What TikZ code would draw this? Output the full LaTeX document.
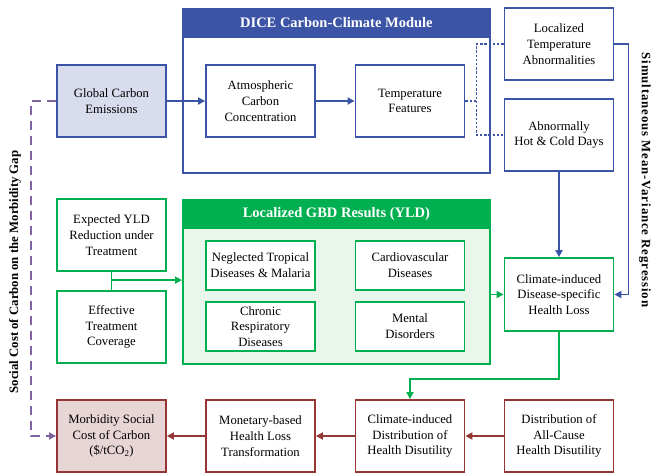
\documentclass[tikz,border=0pt]{standalone}
\usepackage{fontspec}
\setmainfont{Liberation Serif}
\usetikzlibrary{arrows.meta}
\definecolor{cblue}{RGB}{60,84,165}
\definecolor{lblue}{RGB}{216,220,236}
\definecolor{cgreen}{RGB}{0,176,80}
\definecolor{lgreen}{RGB}{232,246,236}
\definecolor{cred}{RGB}{148,54,52}
\definecolor{lred}{RGB}{232,214,214}
\definecolor{cpurple}{RGB}{128,100,162}
\newcommand\bxfont{\fontsize{12.7}{15.8}\selectfont}
\newcommand\hdfont{\bfseries\fontsize{14.5}{16}\selectfont}
\newcommand\sidefont{\bfseries\fontsize{12.8}{14}\selectfont}
\begin{document}
\begin{tikzpicture}[x=1pt,y=-1pt,
  box/.style={draw, line width=1.8pt, minimum width=109pt, minimum height=72pt, align=center, inner sep=1pt, font=\bxfont},
  bb/.style={box, draw=cblue, fill=white},
  gb/.style={box, draw=cgreen, fill=white},
  rb/.style={box, draw=cred, fill=white},
  small/.style={minimum height=49pt},
  cont/.style={draw, line width=1.8pt, minimum width=307pt, anchor=north west, inner sep=0pt},
  hdr/.style={cont, minimum height=28pt, text=white, font=\hdfont},
  arr/.style={line width=1.8pt, -{Triangle[length=7pt,width=7pt]}},
  ln/.style={line width=1.8pt},
  dotb/.style={line width=1.8pt, cblue, dash pattern=on 2.4pt off 1.8pt},
  pdash/.style={line width=1.8pt, cpurple, dash pattern=on 9pt off 6pt, -{Triangle[length=7pt,width=7pt]}}
]
\useasboundingbox (0,0) rectangle (651,472);

% DICE container
\node[cont, draw=cblue, fill=white, minimum height=164pt] (dice) at (182,8) {};
\node[hdr, draw=cblue, fill=cblue] (diceh) at (182,8) {DICE Carbon-Climate Module};

% GBD container
\node[cont, draw=cgreen, fill=lgreen, minimum height=164pt] (gbd) at (182,199) {};
\node[hdr, draw=cgreen, fill=cgreen] (gbdh) at (182,199) {Localized GBD Results (YLD)};

% top row
\node[bb, fill=lblue] (ge) at (111.5,101) {Global Carbon\\Emissions};
\node[bb] (atm) at (260.5,101) {Atmospheric\\Carbon\\Concentration};
\node[bb] (tf) at (410,101) {Temperature\\Features};
\node[bb] (lta) at (559,44) {Localized\\Temperature\\Abnormalities};
\node[bb] (hcd) at (559,135) {Abnormally\\Hot \& Cold Days};

% middle
\node[gb] (eyld) at (111.5,235) {Expected YLD\\Reduction under\\Treatment};
\node[gb] (etc) at (111.5,327) {Effective\\Treatment\\Coverage};
\node[gb, small] (ntd) at (260.5,265.5) {Neglected Tropical\\Diseases \& Malaria};
\node[gb, small] (crd) at (260.5,326.5) {Chronic\\Respiratory\\Diseases};
\node[gb, small] (cvd) at (410,265.5) {Cardiovascular\\Diseases};
\node[gb, small] (md) at (410,326.5) {Mental\\Disorders};
\node[gb, minimum height=73pt] (cidh) at (559,294.5) {Climate-induced\\Disease-specific\\Health Loss};

% bottom row
\node[rb, fill=lred] (mscc) at (111.5,436) {Morbidity Social\\Cost of Carbon\\(\$/tCO\textsubscript{2})};
\node[rb] (mhl) at (260.5,436) {Monetary-based\\Health Loss\\Transformation};
\node[rb] (cidd) at (410,436) {Climate-induced\\Distribution of\\Health Disutility};
\node[rb] (dacd) at (559,436) {Distribution of\\All-Cause\\Health Disutility};

% side labels
\node[rotate=90, font=\sidefont] (lab1) at (15,272) {Social Cost of Carbon on the Morbidity Gap};
\node[rotate=-90, font=\sidefont\addfontfeatures{LetterSpace=7}] (lab2) at (645,180) {Simultaneous Mean-Variance Regression};

% blue connectors
\draw[arr, cblue] (ge) -- (atm);
\draw[arr, cblue] (atm) -- (tf);
\draw[dotb] (tf.east) -- ++(11,0) coordinate (dj);
\draw[dotb] (lta.west) -| (dj) |- (hcd.west);
\draw[arr, cblue] (lta.east) -- ++(14,0) |- (cidh.east);
\draw[arr, cblue] (hcd.south) -- (cidh.north);

% green connectors
\draw[ln, cgreen] (eyld.south) -- (etc.north);
\path (eyld.south) -- (etc.north) coordinate[pos=0.45] (jn);
\draw[arr, cgreen] (jn) -- (jn -| gbd.west);
\draw[arr, cgreen] (cidh.west -| gbd.east) -- (cidh.west);
\draw[arr, cgreen] (cidh.south) -- ++(0,47) -| (cidd.north);

% red connectors
\draw[arr, cred] (dacd) -- (cidd);
\draw[arr, cred] (cidd) -- (mhl);
\draw[arr, cred] (mhl) -- (mscc);

% purple dashed
\draw[pdash] (ge.west) -- ++(-25,0) |- (mscc.west);
\end{tikzpicture}
\end{document}
